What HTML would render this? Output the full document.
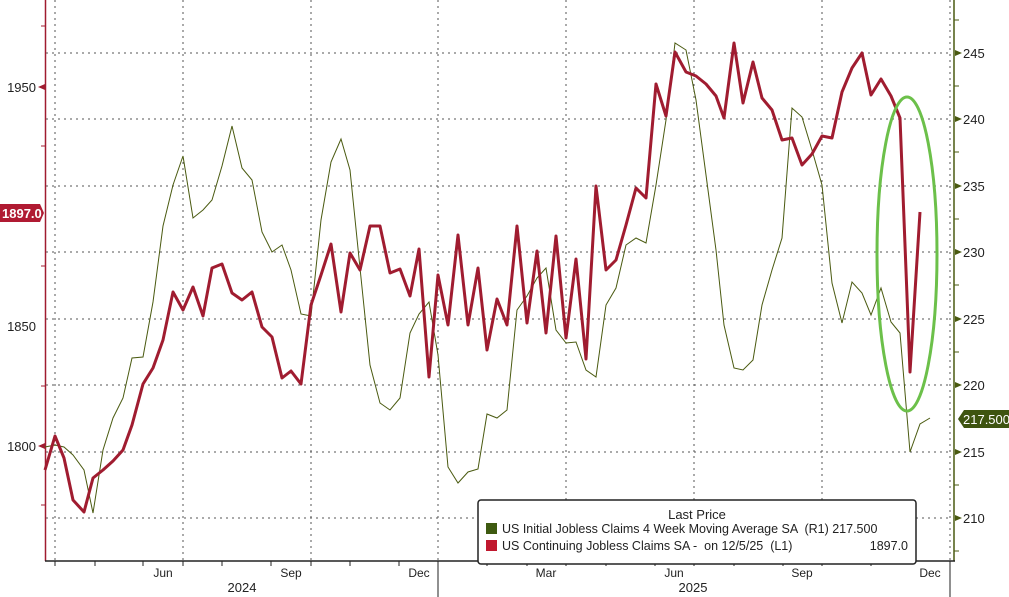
<!DOCTYPE html>
<html><head><meta charset="utf-8"><style>
html,body{margin:0;padding:0;background:#fff;}
svg{display:block;font-family:"Liberation Sans",sans-serif;}
</style></head><body>
<svg width="1009" height="597" viewBox="0 0 1009 597" xmlns="http://www.w3.org/2000/svg">
<rect width="1009" height="597" fill="#fff"/>
<g stroke="#555" stroke-width="1" stroke-dasharray="2,4">
<line x1="46" y1="53" x2="952" y2="53"/><line x1="46" y1="119" x2="952" y2="119"/>
<line x1="46" y1="186" x2="952" y2="186"/><line x1="46" y1="252" x2="952" y2="252"/>
<line x1="46" y1="319" x2="952" y2="319"/><line x1="46" y1="385" x2="952" y2="385"/>
<line x1="46" y1="452" x2="952" y2="452"/><line x1="46" y1="518" x2="952" y2="518"/>
<line x1="55" y1="0" x2="55" y2="560"/><line x1="183" y1="0" x2="183" y2="560"/>
<line x1="311" y1="0" x2="311" y2="560"/><line x1="438" y1="0" x2="438" y2="560"/>
<line x1="566" y1="0" x2="566" y2="560"/><line x1="694" y1="0" x2="694" y2="560"/>
<line x1="822" y1="0" x2="822" y2="560"/><line x1="950" y1="0" x2="950" y2="560"/>
</g>
<line x1="45.5" y1="0" x2="45.5" y2="561" stroke="#a01c30" stroke-width="1.5"/>
<line x1="954" y1="0" x2="954" y2="561" stroke="#4a5a10" stroke-width="1.5"/>
<line x1="45" y1="561" x2="955" y2="561" stroke="#222" stroke-width="1.5"/>
<g stroke="#a01c30" stroke-width="1"><line x1="41" y1="26" x2="45" y2="26"/><line x1="41" y1="146" x2="45" y2="146"/><line x1="41" y1="266" x2="45" y2="266"/><line x1="41" y1="386" x2="45" y2="386"/><line x1="41" y1="505" x2="45" y2="505"/></g>
<g fill="#a01c30"><polygon points="38,87 45,84 45,90"/><polygon points="38,446 45,443 45,449"/></g>
<g font-size="13" fill="#222" text-anchor="end"><text x="36" y="92">1950</text><text x="36" y="331">1850</text><text x="36" y="451">1800</text></g>
<g stroke="#4a5a10" stroke-width="1"><line x1="954" y1="20" x2="959" y2="20"/><line x1="954" y1="86" x2="959" y2="86"/><line x1="954" y1="152" x2="959" y2="152"/><line x1="954" y1="219" x2="959" y2="219"/><line x1="954" y1="285" x2="959" y2="285"/><line x1="954" y1="352" x2="959" y2="352"/><line x1="954" y1="485" x2="959" y2="485"/><line x1="954" y1="551" x2="959" y2="551"/></g>
<g fill="#4a5a10"><polygon points="955,50 962,53 955,56"/><polygon points="955,116 962,119 955,122"/><polygon points="955,183 962,186 955,189"/><polygon points="955,249 962,252 955,255"/><polygon points="955,316 962,319 955,322"/><polygon points="955,382 962,385 955,388"/><polygon points="955,449 962,452 955,455"/><polygon points="955,515 962,518 955,521"/></g>
<g font-size="13" fill="#222"><text x="963" y="58">245</text><text x="963" y="124">240</text><text x="963" y="191">235</text><text x="963" y="257">230</text><text x="963" y="324">225</text><text x="963" y="390">220</text><text x="963" y="457">215</text><text x="963" y="523">210</text></g>
<g stroke="#222"><line x1="55" y1="561" x2="55" y2="566"/><line x1="95" y1="561" x2="95" y2="566"/><line x1="143" y1="561" x2="143" y2="566"/><line x1="183" y1="561" x2="183" y2="566"/><line x1="222" y1="561" x2="222" y2="566"/><line x1="271" y1="561" x2="271" y2="566"/><line x1="311" y1="561" x2="311" y2="566"/><line x1="350" y1="561" x2="350" y2="566"/><line x1="399" y1="561" x2="399" y2="566"/><line x1="438" y1="561" x2="438" y2="597"/><line x1="487" y1="561" x2="487" y2="566"/><line x1="527" y1="561" x2="527" y2="566"/><line x1="566" y1="561" x2="566" y2="566"/><line x1="606" y1="561" x2="606" y2="566"/><line x1="655" y1="561" x2="655" y2="566"/><line x1="694" y1="561" x2="694" y2="566"/><line x1="734" y1="561" x2="734" y2="566"/><line x1="783" y1="561" x2="783" y2="566"/><line x1="822" y1="561" x2="822" y2="566"/><line x1="871" y1="561" x2="871" y2="566"/><line x1="950" y1="561" x2="950" y2="597"/></g>
<g font-size="12" fill="#222" text-anchor="middle"><text x="163" y="577">Jun</text><text x="291" y="577">Sep</text><text x="419" y="577">Dec</text><text x="546" y="577">Mar</text><text x="674" y="577">Jun</text><text x="802" y="577">Sep</text><text x="930" y="577">Dec</text><text x="242" y="592" font-size="13">2024</text><text x="693" y="592" font-size="13">2025</text></g>
<polyline fill="none" stroke="#4a5a10" stroke-width="1" points="45,447 55,445 64,447 73,455 84,470 93,513 103,450 113,418 123,398 132,358 143,357 153,302 163,226 173,185 183,156 193,218 203,210 212,200 222,166 232,126 242,168 252,180 262,232 272,252 282,245 291,270 301,314 311,316 321,220 331,162 341,139 350,170 360,268 370,365 380,403 390,410 400,398 410,333 419,314 429,302 438,355 448,467 458,483 468,472 478,469 487,414 497,418 507,410 517,310 527,296 537,278 546,268 556,330 566,343 576,342 586,370 596,377 606,305 616,288 626,245 636,238 646,243 656,185 666,120 675,43 686,50 696,100 706,175 716,250 724,325 734,368 743,370 753,360 762,305 772,270 782,238 792,108 802,117 812,150 822,185 832,283 842,323 852,282 862,293 871,315 881,288 891,322 900,333 910,452 920,424 930,418"/>
<polyline fill="none" stroke="#a01c30" stroke-width="3" stroke-linejoin="round" points="45,470 55,436 64,458 73,500 84,512 93,478 103,470 113,461 123,450 132,425 143,384 153,368 163,340 173,292 183,310 193,287 203,316 212,268 222,264 232,293 242,300 252,292 262,327 272,337 282,378 291,371 301,384 311,305 321,275 331,244 341,312 350,253 360,270 370,226 380,226 390,273 400,269 410,296 419,249 429,377 438,275 448,325 458,235 468,325 478,268 487,350 497,299 507,325 517,226 527,323 537,251 546,333 556,236 566,338 576,259 586,359 596,186 606,270 616,260 626,225 636,188 646,198 656,84 666,116 675,52 686,72 696,76 706,84 716,96 724,118 734,43 743,103 753,62 762,98 772,110 782,140 792,138 802,165 812,154 822,136 832,138 842,92 852,68 862,53 871,95 881,79 891,96 900,118 910,372 920,212"/>
<ellipse cx="907" cy="254" rx="30" ry="157" fill="none" stroke="#6cc04a" stroke-width="3"/>
<polygon points="0,204 40,204 44,213 40,222 0,222" fill="#b01a32"/>
<text x="2" y="218" font-size="13" fill="#fff" font-weight="bold">1897.0</text>
<polygon points="964,410 1009,410 1009,428 964,428 958,419" fill="#3e5410"/>
<text x="963" y="424" font-size="13" fill="#fff">217.500</text>
<rect x="478" y="500" width="438" height="64" rx="3" fill="#fff" stroke="#222" stroke-width="1.5"/>
<text x="697" y="519" font-size="13" fill="#222" text-anchor="middle">Last Price</text>
<rect x="486" y="523" width="11" height="11" fill="#3e5a10"/>
<rect x="486" y="540" width="11" height="11" fill="#c0182e"/>
<text x="502" y="533" font-size="12.5" fill="#222" xml:space="preserve" style="white-space:pre">US Initial Jobless Claims 4 Week Moving Average SA  (R1) 217.500</text>
<text x="502" y="550" font-size="12.5" fill="#222" xml:space="preserve" style="white-space:pre">US Continuing Jobless Claims SA -  on 12/5/25  (L1)</text>
<text x="908" y="550" font-size="12.5" fill="#222" text-anchor="end">1897.0</text>
</svg>
</body></html>
